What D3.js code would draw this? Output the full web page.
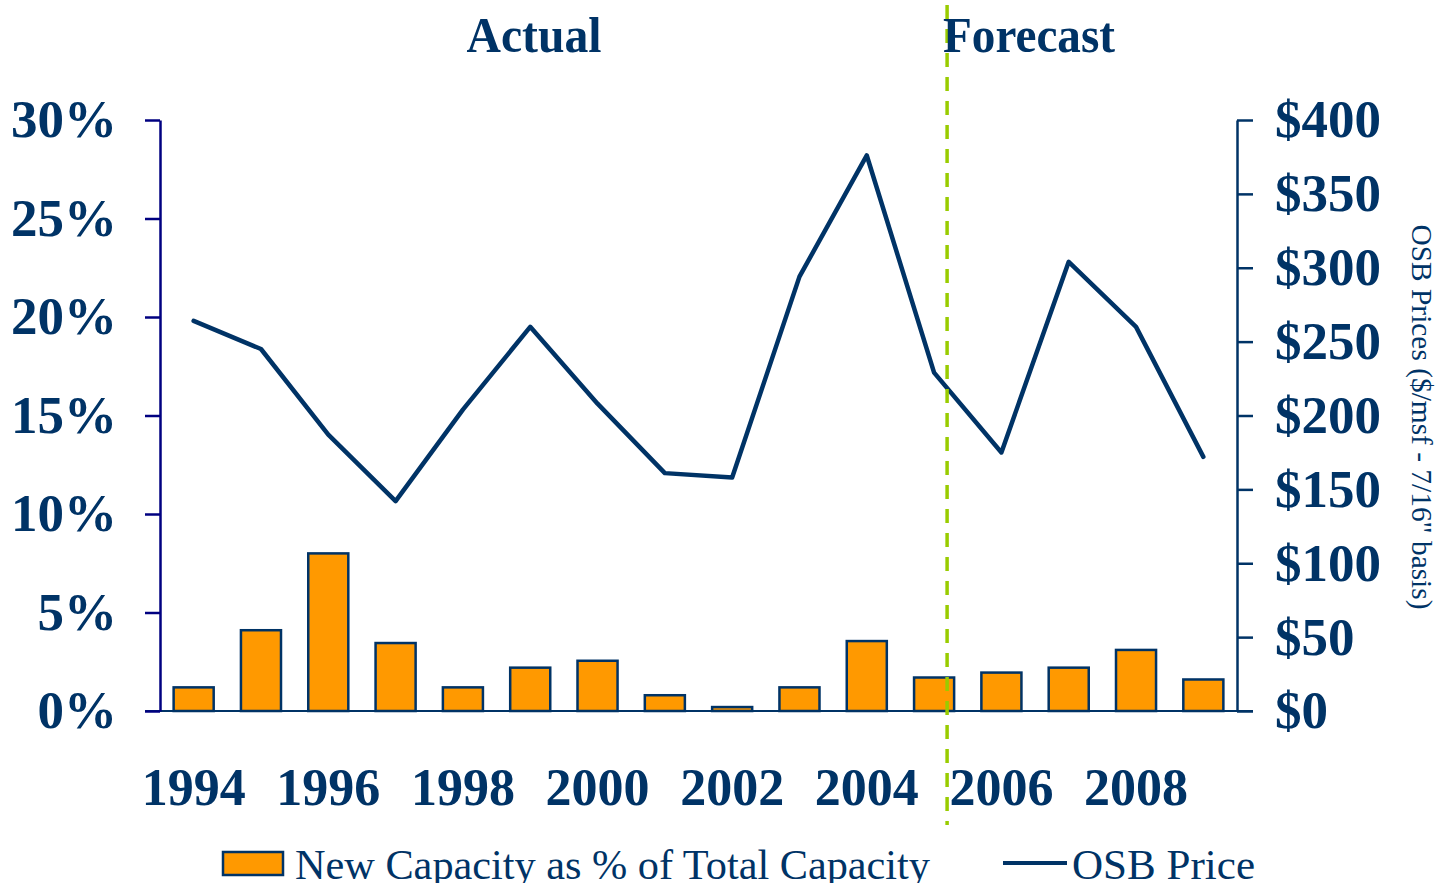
<!DOCTYPE html>
<html>
<head>
<meta charset="utf-8">
<script src="https://d3js.org/d3.v7.min.js"></script>
<style>
  body { margin: 0; background: #fff; }
  svg text { font-family: "Liberation Serif", "Times New Roman", serif; fill: #003366; }
</style>
</head>
<body>
<div id="chart"></div>
<script>
// data
var years = [1994, 1995, 1996, 1997, 1998, 1999, 2000, 2001, 2002, 2003, 2004, 2005, 2006, 2007, 2008, 2009];
var newCapacity = [1.2, 4.1, 8.0, 3.45, 1.2, 2.2, 2.55, 0.8, 0.2, 1.2, 3.55, 1.7, 1.95, 2.2, 3.1, 1.6];
var osbPrice = [264, 245, 187, 142, 204, 260, 208, 161, 158, 294, 376, 229, 175, 304, 260, 172];
var yearLabels = [1994, 1996, 1998, 2000, 2002, 2004, 2006, 2008];
var pctTicks = [0, 5, 10, 15, 20, 25, 30];
var priceTicks = [0, 50, 100, 150, 200, 250, 300, 350, 400];
var forecastStart = 2005;

var width = 1443, height = 883;
var navy = "#003366";

var svg = d3.select("#chart").append("svg").attr("width", width).attr("height", height);

var plotLeft = 160, plotRight = 1237, plotTop = 120, plotBottom = 711;

var x = d3.scaleBand().domain(years).range([plotLeft, plotRight]).paddingInner(0.405).paddingOuter(0.2025);
var yPct = d3.scaleLinear().domain([0, 30]).range([plotBottom, plotTop]);
var yPrice = d3.scaleLinear().domain([0, 400]).range([plotBottom, plotTop]);

// bars
svg.selectAll(".bar")
  .data(years).enter().append("rect")
  .attr("class", "bar")
  .attr("x", function(d) { return x(d); })
  .attr("width", x.bandwidth())
  .attr("y", function(d, i) { return yPct(newCapacity[i]); })
  .attr("height", function(d, i) { return plotBottom - yPct(newCapacity[i]); })
  .attr("fill", "#FF9900")
  .attr("stroke", navy)
  .attr("stroke-width", 2.5);

// baseline
svg.append("line")
  .attr("x1", 145).attr("x2", 1253)
  .attr("y1", plotBottom).attr("y2", plotBottom)
  .attr("stroke", navy).attr("stroke-width", 2);

// left axis
var leftAxis = svg.append("g").attr("transform", "translate(" + plotLeft + ",0)")
  .call(d3.axisLeft(yPct).tickValues(pctTicks).tickSize(15).tickSizeOuter(0).tickPadding(28)
    .tickFormat(function(d) { return d + "%"; }));
leftAxis.select(".domain").attr("stroke", "#000080").attr("stroke-width", 2.5);
leftAxis.selectAll(".tick line").attr("stroke", "#000080").attr("stroke-width", 2.5);
leftAxis.selectAll(".tick text")
  .attr("fill", navy).style("font-family", "Liberation Serif").style("font-weight", "bold").style("font-size", "53px");

// right axis
var rightAxis = svg.append("g").attr("transform", "translate(" + plotRight + ",0)")
  .call(d3.axisRight(yPrice).tickValues(priceTicks).tickSize(16).tickSizeOuter(0).tickPadding(22)
    .tickFormat(function(d) { return "$" + d; }));
rightAxis.select(".domain").attr("stroke", navy).attr("stroke-width", 2.5);
rightAxis.selectAll(".tick line").attr("stroke", navy).attr("stroke-width", 2.5);
rightAxis.selectAll(".tick text")
  .attr("fill", navy).style("font-family", "Liberation Serif").style("font-weight", "bold").style("font-size", "53px");

// right axis title
svg.append("text")
  .attr("transform", "translate(1422,417) rotate(90)")
  .attr("text-anchor", "middle")
  .attr("dominant-baseline", "central")
  .attr("textLength", 385)
  .attr("lengthAdjust", "spacingAndGlyphs")
  .style("font-size", "29px")
  .text("OSB Prices ($/msf - 7/16\" basis)");

// price line
var line = d3.line()
  .x(function(d, i) { return x(years[i]) + x.bandwidth() / 2; })
  .y(function(d) { return yPrice(d); });
svg.append("path")
  .datum(osbPrice)
  .attr("d", line)
  .attr("fill", "none")
  .attr("stroke", navy)
  .attr("stroke-width", 4.5)
  .attr("stroke-linejoin", "round")
  .attr("stroke-linecap", "round");

// year labels
svg.selectAll(".yearlabel")
  .data(yearLabels).enter().append("text")
  .attr("class", "yearlabel")
  .attr("x", function(d) { return x(d) + x.bandwidth() / 2; })
  .attr("y", 805)
  .attr("text-anchor", "middle")
  .style("font-weight", "bold")
  .style("font-size", "52px")
  .text(function(d) { return d; });

// forecast divider
var divX = x(forecastStart) + x.bandwidth() / 2 + 13;
svg.append("line")
  .attr("x1", divX).attr("x2", divX)
  .attr("y1", 5).attr("y2", 825)
  .attr("stroke", "#99CC00")
  .attr("stroke-width", 3.5)
  .attr("stroke-dasharray", "14,10");

// section titles
svg.append("text")
  .attr("x", 534).attr("y", 52)
  .attr("text-anchor", "middle")
  .attr("textLength", 135).attr("lengthAdjust", "spacingAndGlyphs")
  .style("font-weight", "bold").style("font-size", "50px")
  .text("Actual");
svg.append("text")
  .attr("x", 943).attr("y", 52)
  .attr("textLength", 172).attr("lengthAdjust", "spacingAndGlyphs")
  .style("font-weight", "bold").style("font-size", "50px")
  .text("Forecast");

// legend
svg.append("rect")
  .attr("x", 223).attr("y", 852).attr("width", 60).attr("height", 23)
  .attr("fill", "#FF9900").attr("stroke", navy).attr("stroke-width", 2.5);
svg.append("text")
  .attr("x", 295).attr("y", 879)
  .attr("textLength", 635).attr("lengthAdjust", "spacingAndGlyphs")
  .style("font-size", "42px")
  .text("New Capacity as % of Total Capacity");
svg.append("line")
  .attr("x1", 1003).attr("x2", 1067).attr("y1", 863).attr("y2", 863)
  .attr("stroke", navy).attr("stroke-width", 4);
svg.append("text")
  .attr("x", 1072).attr("y", 879)
  .attr("textLength", 183).attr("lengthAdjust", "spacingAndGlyphs")
  .style("font-size", "42px")
  .text("OSB Price");
</script>
</body>
</html>
